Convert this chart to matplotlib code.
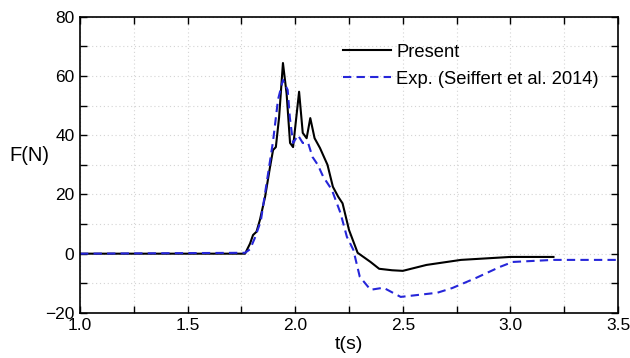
import matplotlib
matplotlib.use("Agg")
import matplotlib.pyplot as plt
from matplotlib.ticker import MultipleLocator, FormatStrFormatter

plt.rcParams['font.family'] = ['Liberation Sans', 'DejaVu Sans']

# present simulation
t_present = [1.0, 1.767, 1.79, 1.804, 1.82, 1.836, 1.86, 1.883, 1.897, 1.91,
             1.925, 1.943, 1.96, 1.976, 1.99, 2.018, 2.035, 2.053, 2.07, 2.09,
             2.115, 2.15, 2.175, 2.20, 2.22, 2.25, 2.29, 2.35, 2.39, 2.45,
             2.50, 2.61, 2.77, 3.00, 3.20]
f_present = [0.0, 0.0, 3.4, 6.3, 7.4, 11.4, 19.2, 29.3, 35.0, 36.0,
             46.0, 64.4, 54.0, 37.4, 36.0, 54.7, 40.8, 39.0, 45.8, 39.0,
             35.7, 30.0, 22.6, 19.2, 17.0, 8.0, 0.3, -2.8, -5.1, -5.6,
             -5.8, -3.8, -2.1, -1.1, -1.1]

# experiment (Seiffert et al. 2014)
t_exp = [1.0, 1.767, 1.79, 1.813, 1.84, 1.86, 1.897, 1.92, 1.943, 1.965,
         1.975, 1.99, 2.013, 2.035, 2.06, 2.08, 2.105, 2.13, 2.17, 2.21,
         2.24, 2.27, 2.30, 2.35, 2.41, 2.49, 2.66, 2.73, 2.84, 2.95,
         3.01, 3.20, 3.50]
f_exp = [0.0, 0.3, 1.5, 5.4, 11.0, 20.5, 38.0, 52.0, 58.7, 55.3,
         46.0, 37.4, 40.0, 37.4, 37.4, 32.7, 30.0, 26.0, 21.6, 13.8,
         5.7, 1.3, -7.8, -12.2, -11.5, -14.6, -13.2, -11.6, -8.2, -4.5,
         -2.8, -2.1, -2.1]

fig = plt.figure(figsize=(6.3, 3.58), dpi=100)
ax = fig.add_axes([0.127, 0.126, 0.854, 0.827])

ax.plot(t_present, f_present, color='black', lw=1.5, label='Present')
ax.plot(t_exp, f_exp, color=(0.15, 0.15, 0.85), lw=1.5, ls=(0, (4, 2.5)),
        label='Exp. (Seiffert et al. 2014)')

ax.set_xlim(1.0, 3.5)
ax.set_ylim(-20, 80)
ax.xaxis.set_major_locator(MultipleLocator(0.5))
ax.xaxis.set_minor_locator(MultipleLocator(0.25))
ax.yaxis.set_major_locator(MultipleLocator(20))
ax.yaxis.set_minor_locator(MultipleLocator(10))
ax.xaxis.set_major_formatter(FormatStrFormatter('%.1f'))

ax.grid(which='both', color='#d4d4d4', ls=(0, (1, 2.5)), lw=0.8)
ax.tick_params(which='both', direction='in', top=True, right=True,
               labelsize=12.5, width=1, length=5, pad=4)
for s in ax.spines.values():
    s.set_linewidth(1.2)

ax.set_xlabel('t(s)', fontsize=14, labelpad=2)
ax.set_ylabel('F(N)', fontsize=14.5, rotation=0)
ax.yaxis.set_label_coords(-0.095, 0.5)

ax.legend(loc='upper right', frameon=False, fontsize=13.2, handlelength=2.6,
          handletextpad=0.3, borderaxespad=0.2, labelspacing=0.55,
          bbox_to_anchor=(0.985, 0.946))

fig.savefig('out.png', dpi=100)
